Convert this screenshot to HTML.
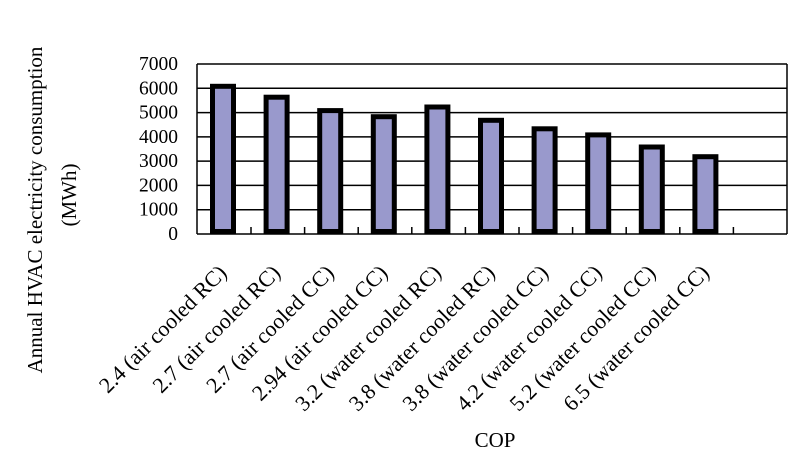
<!DOCTYPE html>
<html><head><meta charset="utf-8"><style>
html,body{margin:0;padding:0;background:#fff;}
svg{display:block;font-family:"Liberation Serif",serif;}
</style></head><body>
<svg width="800" height="463" viewBox="0 0 800 463" xmlns="http://www.w3.org/2000/svg">
<rect x="0" y="0" width="800" height="463" fill="#fff"/>
<g stroke="#000" stroke-width="1.5">
<line x1="197" y1="64" x2="787" y2="64"/>
<line x1="197" y1="88.3" x2="787" y2="88.3"/>
<line x1="197" y1="112.6" x2="787" y2="112.6"/>
<line x1="197" y1="136.9" x2="787" y2="136.9"/>
<line x1="197" y1="161.1" x2="787" y2="161.1"/>
<line x1="197" y1="185.4" x2="787" y2="185.4"/>
<line x1="197" y1="209.7" x2="787" y2="209.7"/>
<line x1="197" y1="234" x2="787" y2="234"/>
<line x1="197" y1="64" x2="197" y2="234"/>
<line x1="787" y1="64" x2="787" y2="234"/>
</g>
<g stroke="#000" stroke-width="1.5">
<line x1="251" y1="227" x2="251" y2="234"/><line x1="304.6" y1="227" x2="304.6" y2="234"/>
<line x1="358.2" y1="227" x2="358.2" y2="234"/><line x1="411.8" y1="227" x2="411.8" y2="234"/>
<line x1="465.4" y1="227" x2="465.4" y2="234"/><line x1="519" y1="227" x2="519" y2="234"/>
<line x1="572.6" y1="227" x2="572.6" y2="234"/><line x1="626.2" y1="227" x2="626.2" y2="234"/>
<line x1="679.8" y1="227" x2="679.8" y2="234"/><line x1="733.4" y1="227" x2="733.4" y2="234"/>
</g>
<g fill="#9999cc" stroke="#000" stroke-width="5">
<rect x="212.5" y="86.3" width="21" height="145.2"/>
<rect x="266.1" y="97.2" width="21" height="134.3"/>
<rect x="319.7" y="110.6" width="21" height="120.9"/>
<rect x="373.3" y="116.7" width="21" height="114.8"/>
<rect x="426.9" y="107" width="21" height="124.5"/>
<rect x="480.5" y="120.3" width="21" height="111.2"/>
<rect x="534.1" y="128.8" width="21" height="102.7"/>
<rect x="587.7" y="134.9" width="21" height="96.6"/>
<rect x="641.3" y="147" width="21" height="84.5"/>
<rect x="694.9" y="156.7" width="21" height="74.8"/>
</g>
<g font-size="19.5" text-anchor="end" fill="#000">
<text x="178" y="70">7000</text><text x="178" y="94.3">6000</text>
<text x="178" y="118.6">5000</text><text x="178" y="142.9">4000</text>
<text x="178" y="167.1">3000</text><text x="178" y="191.4">2000</text>
<text x="178" y="215.7">1000</text><text x="178" y="240">0</text>
</g>
<g font-size="22" text-anchor="end" fill="#000">
<text transform="translate(228,274) rotate(-45)">2.4 (air cooled RC)</text>
<text transform="translate(281.6,274) rotate(-45)">2.7 (air cooled RC)</text>
<text transform="translate(335.2,274) rotate(-45)">2.7 (air cooled CC)</text>
<text transform="translate(388.8,274) rotate(-45)">2.94 (air cooled CC)</text>
<text transform="translate(442.4,274) rotate(-45)">3.2 (water cooled RC)</text>
<text transform="translate(496,274) rotate(-45)">3.8 (water cooled RC)</text>
<text transform="translate(549.6,274) rotate(-45)">3.8 (water cooled CC)</text>
<text transform="translate(603.2,274) rotate(-45)">4.2 (water cooled CC)</text>
<text transform="translate(656.8,274) rotate(-45)">5.2 (water cooled CC)</text>
<text transform="translate(710.4,274) rotate(-45)">6.5 (water cooled CC)</text>
</g>
<g font-size="21" text-anchor="middle" fill="#000">
<text transform="translate(42,210) rotate(-90)">Annual HVAC electricity consumption</text>
<text transform="translate(76,195) rotate(-90)">(MWh)</text>
<text x="495" y="447">COP</text>
</g>
</svg>
</body></html>
